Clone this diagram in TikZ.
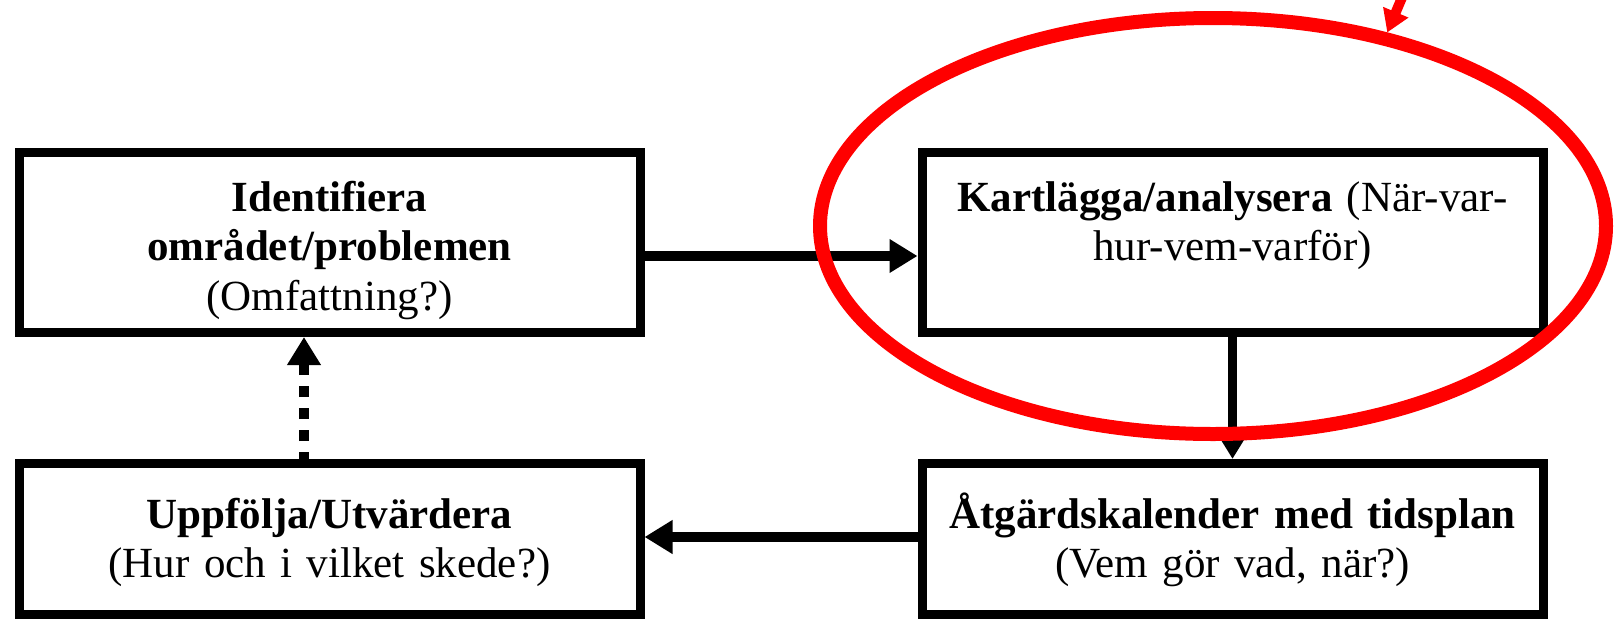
\documentclass[tikz,border=0pt]{standalone}
\usepackage{fontspec}
\setmainfont{Liberation Serif}
\usetikzlibrary{arrows.meta,shapes.geometric}
\begin{document}
\begin{tikzpicture}[x=1pt,y=-1pt,
  stepbox/.style={draw=black, line width=9pt, rectangle, minimum width=621pt,
    inner sep=0pt, outer sep=4.5pt},
  boxtext/.style={anchor=base, text width=600pt, align=center, inner sep=0pt,
    font=\fontsize{43}{49.5}\selectfont},
  flow/.style={line width=9.5pt, -{Triangle[length=28pt,width=32pt]}},
  back/.style={flow, dash pattern=on 11pt off 11pt, dash phase=4pt},
  focusring/.style={ellipse, draw=red, line width=14pt, minimum width=786pt,
    minimum height=416pt, inner sep=0pt, outer sep=7pt},
  pointer/.style={draw=red, line width=10pt, -{Triangle[length=22pt,width=26pt]}}
]
\useasboundingbox (0,0) rectangle (1614,619);

% process steps
\node[stepbox, minimum height=180pt] (ident) at (329.5,242.5) {};
\node[stepbox, minimum height=180pt] (kart)  at (1232.5,242.5) {};
\node[stepbox, minimum height=151pt] (uppf)  at (329.5,539) {};
\node[stepbox, minimum height=151pt] (atg)   at (1232.5,539) {};

\node[boxtext] (identtext) at (329.5,211)
  {\textbf{Identifiera}\\\textbf{området/problemen}\\(Omfattning?)};
\node[boxtext] (karttext) at (1232.5,211)
  {\textbf{Kartlägga/analysera} (När-var-\\hur-vem-varför)};
\node[boxtext] (uppftext) at (329.5,528)
  {\textbf{Uppfölja/Utvärdera}\\(Hur och i vilket skede?)};
\node[boxtext] (atgtext) at (1232.5,528)
  {\textbf{Åtgärdskalender med tidsplan}\\(Vem gör vad, när?)};

% connectors of the cycle
\draw[flow] ([yshift=-13.5pt]ident.east) -- ([yshift=-13.5pt]kart.west);
\draw[flow] (kart.south) -- (atg.north);
\draw[flow] ([yshift=2pt]atg.west) -- ([yshift=2pt]uppf.east);
\draw[back] ([xshift=-25.5pt]uppf.north) -- ([xshift=-25.5pt]ident.south);

% red highlight around the analysis step
\node[focusring] (focus) at (1213,226) {};
\coordinate (pointerstart) at (1406,-12);
\draw[pointer] (pointerstart) -- (focus.48.7);
\end{tikzpicture}
\end{document}
